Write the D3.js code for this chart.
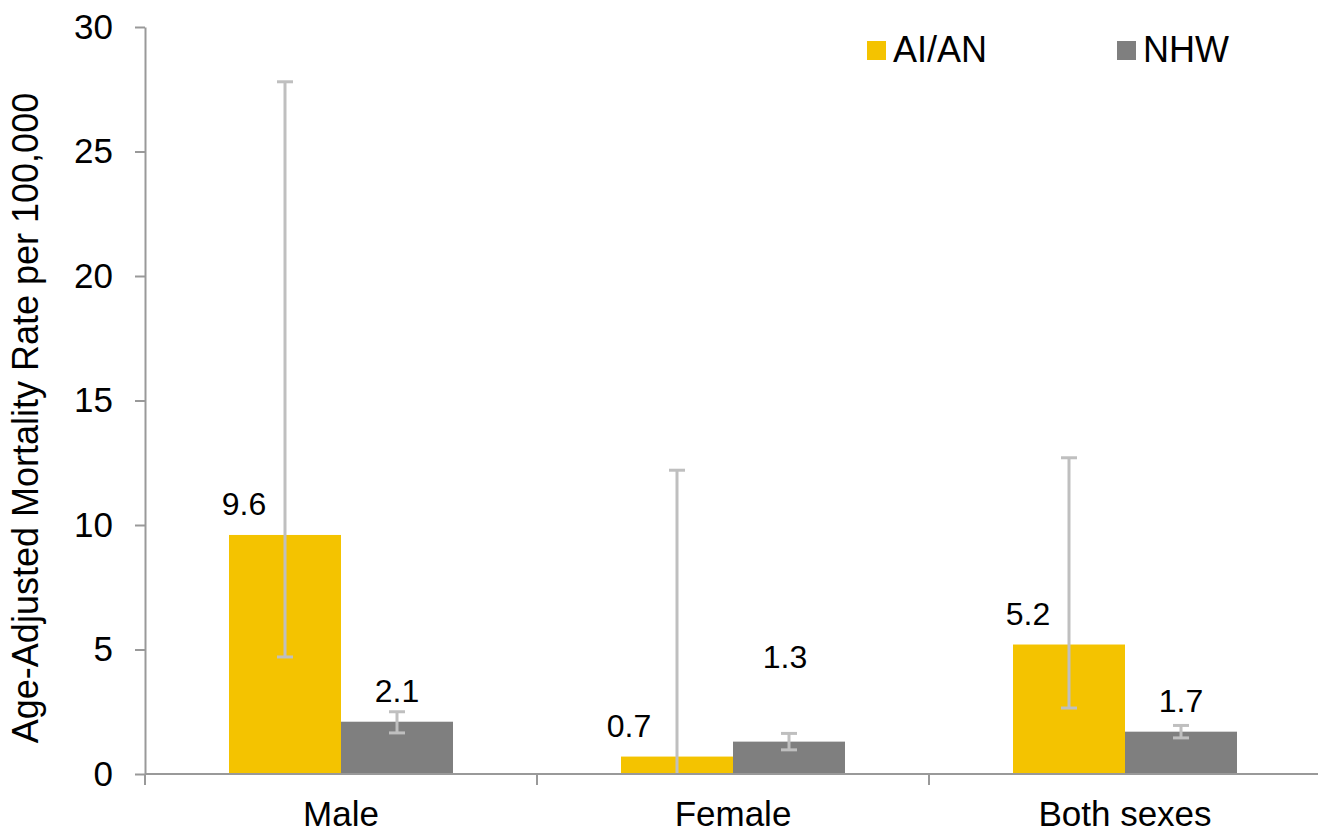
<!DOCTYPE html>
<meta charset="utf-8">

<head>
  <style>
    body {
      margin: 0;
      background: #fff;
    }

    svg text {
      font-family: "Liberation Sans", Arial, sans-serif;
      fill: #000;
    }

    .axis path,
    .axis line {
      stroke: #999;
      stroke-width: 2px;
    }

    .err {
      stroke: #bfbfbf;
      stroke-width: 3px;
    }
  </style>
</head>

<body>
  <script src="https://d3js.org/d3.v7.min.js"></script>

  <div id="chart"></div>

  <script>
    // data
    var categories = ["Male", "Female", "Both sexes"];
    var series = ["AI/AN", "NHW"];
    var aian = [9.6, 0.7, 5.2];
    var aianLow = [4.7, 0, 2.65];
    var aianHigh = [27.8, 12.2, 12.7];
    var nhw = [2.1, 1.3, 1.7];
    var nhwLow = [1.65, 0.97, 1.45];
    var nhwHigh = [2.5, 1.63, 1.95];
    var yTicks = [0, 5, 10, 15, 20, 25, 30];

    var colors = { "AI/AN": "#f4c300", "NHW": "#7f7f7f" };

    var width = 1318,
      height = 836;

    var rows = [];
    categories.forEach((c, i) => {
      rows.push({ cat: c, s: "AI/AN", v: aian[i], lo: aianLow[i], hi: aianHigh[i] });
      rows.push({ cat: c, s: "NHW", v: nhw[i], lo: nhwLow[i], hi: nhwHigh[i] });
    });

    var svg = d3.select('#chart')
      .append('svg')
      .attr('width', width)
      .attr('height', height);

    var x = d3.scaleBand()
      .domain(categories)
      .range([145, 1321]);

    var xs = d3.scaleBand()
      .domain(series)
      .range([0, x.bandwidth()])
      .paddingOuter(0.75);

    var y = d3.scaleLinear()
      .domain([0, 30])
      .range([774, 27]);

    // y axis
    var yAxis = svg.append('g')
      .attr('class', 'axis')
      .attr('transform', 'translate(145,0)')
      .call(d3.axisLeft(y).tickValues(yTicks).tickSize(10).tickSizeOuter(0).tickPadding(22));
    yAxis.selectAll('text').style('font-size', '35px');

    // bars
    svg.selectAll('rect.bar')
      .data(rows)
      .enter()
      .append('rect')
      .attr('class', 'bar')
      .attr('x', d => x(d.cat) + xs(d.s))
      .attr('width', xs.bandwidth())
      .attr('y', d => y(d.v))
      .attr('height', d => y(0) - y(d.v))
      .attr('fill', d => colors[d.s]);

    // error bars
    var eb = svg.selectAll('g.eb')
      .data(rows)
      .enter()
      .append('g')
      .attr('class', 'err')
      .attr('transform', d => 'translate(' + (x(d.cat) + xs(d.s) + xs.bandwidth() / 2) + ',0)');
    eb.append('line')
      .attr('y1', d => y(d.lo)).attr('y2', d => y(d.hi));
    eb.append('line')
      .attr('x1', -8).attr('x2', 8)
      .attr('y1', d => y(d.hi)).attr('y2', d => y(d.hi));
    eb.filter(d => d.lo > 0).append('line')
      .attr('x1', -8).attr('x2', 8)
      .attr('y1', d => y(d.lo)).attr('y2', d => y(d.lo));

    // x axis
    var xAxis = svg.append('g')
      .attr('class', 'axis')
      .attr('transform', 'translate(0,774)');
    xAxis.append('line')
      .attr('x1', 145).attr('x2', 1321);
    xAxis.selectAll('line.tk')
      .data(categories.map(c => x(c)).concat([x.range()[1]]))
      .enter()
      .append('line')
      .attr('class', 'tk')
      .attr('x1', d => d).attr('x2', d => d)
      .attr('y1', 0).attr('y2', 11);
    xAxis.selectAll('text')
      .data(categories)
      .enter()
      .append('text')
      .attr('x', d => x(d) + x.bandwidth() / 2)
      .attr('y', 52)
      .attr('text-anchor', 'middle')
      .style('font-size', '35px')
      .text(d => d);

    // data labels, nudged like the original
    var nudge = {
      "Male|AI/AN": [-41, 0], "Female|AI/AN": [-48, 0], "Both sexes|AI/AN": [-41, 0],
      "Female|NHW": [-4, -54]
    };
    svg.selectAll('text.lbl')
      .data(rows)
      .enter()
      .append('text')
      .attr('class', 'lbl')
      .attr('x', d => x(d.cat) + xs(d.s) + xs.bandwidth() / 2 + (nudge[d.cat + '|' + d.s] || [0, 0])[0])
      .attr('y', d => y(d.v) - 20 + (nudge[d.cat + '|' + d.s] || [0, 0])[1])
      .attr('text-anchor', 'middle')
      .style('font-size', '32px')
      .text(d => d3.format('.1f')(d.v));

    // y title
    svg.append('text')
      .attr('transform', 'translate(38,418) rotate(-90)')
      .attr('text-anchor', 'middle')
      .style('font-size', '36px')
      .text('Age-Adjusted Mortality Rate per 100,000');

    // legend
    var leg = svg.selectAll('g.leg')
      .data(series)
      .enter()
      .append('g')
      .attr('transform', (d, i) => 'translate(' + (867 + i * 250) + ',41)');
    leg.append('rect')
      .attr('width', 19).attr('height', 19)
      .attr('fill', d => colors[d]);
    leg.append('text')
      .attr('x', 26).attr('y', 21)
      .style('font-size', '36px')
      .text(d => d);
  </script>
</body>
